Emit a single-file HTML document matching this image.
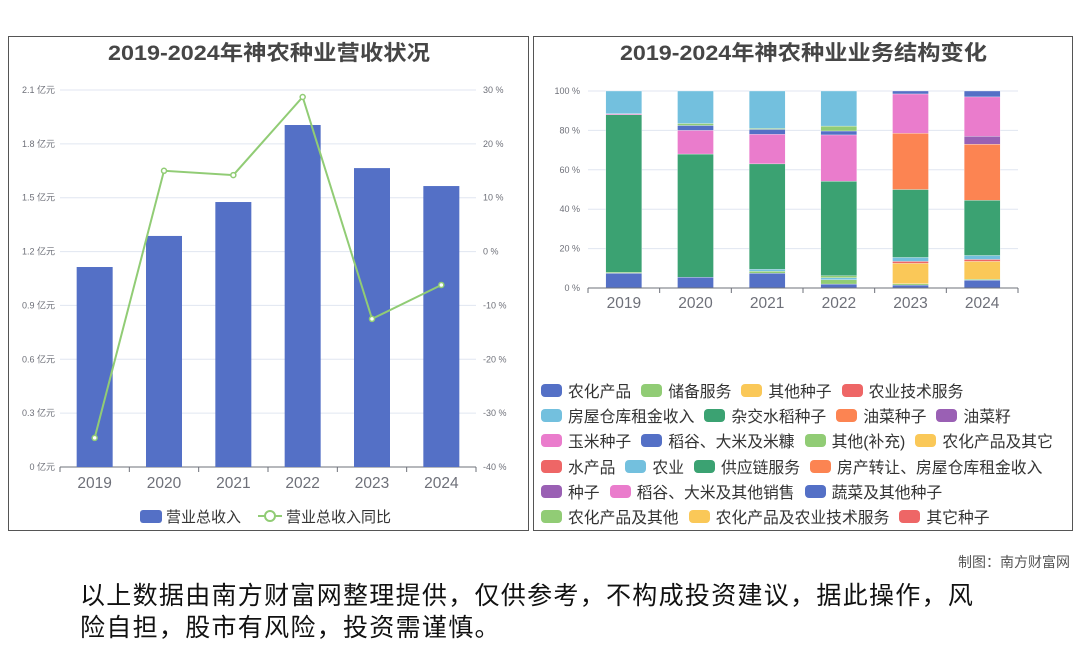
<!DOCTYPE html>
<html><head><meta charset="utf-8"><style>
body{margin:0;width:1080px;height:646px;background:#fff;position:relative;overflow:hidden;font-family:"Liberation Sans","Noto Sans CJK SC",sans-serif}
.panel{position:absolute;border:1px solid #555;box-sizing:border-box}
svg text{font-family:"Liberation Sans","Noto Sans CJK SC",sans-serif}
.leg{position:absolute;left:541px;top:380px;width:530px;display:flex;flex-wrap:wrap;row-gap:4.8px;column-gap:10px;font-size:15.8px;color:#333}
.li{display:flex;align-items:center;height:20.5px;white-space:nowrap}
.li i{display:inline-block;width:21px;height:13px;border-radius:4px;margin-right:6px}
</style></head><body>
<div class="panel" style="left:8px;top:36px;width:521px;height:495px"></div>
<div class="panel" style="left:533px;top:36px;width:540px;height:495px"></div>
<svg id="c" width="1080" height="646" style="position:absolute;left:0;top:0">
<text x="108" y="60" textLength="322" lengthAdjust="spacingAndGlyphs" font-size="21" font-weight="bold" fill="#464646">2019-2024年神农种业营收状况</text>
<text x="620" y="60" textLength="367" lengthAdjust="spacingAndGlyphs" font-size="21" font-weight="bold" fill="#464646">2019-2024年神农种业业务结构变化</text>
<g id="L"></g><g id="R"></g>
<rect x="140" y="510" width="22" height="13" rx="3" fill="#5470c6"/>
<text x="166" y="522" font-size="15" fill="#333">营业总收入</text>
<line x1="258" y1="516" x2="282" y2="516" stroke="#91cc75" stroke-width="2"/>
<circle cx="270" cy="516" r="5" fill="#fff" stroke="#91cc75" stroke-width="2"/>
<text x="286" y="522" font-size="15" fill="#333">营业总收入同比</text>
</svg>
<div class="leg" id="leg"></div>
<div style="position:absolute;right:10px;top:552px;font-size:14px;color:#555">制图：南方财富网</div>
<div style="position:absolute;left:80px;top:580px;width:980px;font-size:25px;letter-spacing:1.3px;line-height:32px;color:#111;white-space:nowrap">以上数据由南方财富网整理提供，仅供参考，不构成投资建议，据此操作，风<br>险自担，股市有风险，投资需谨慎。</div>
<script>
const years=['2019','2020','2021','2022','2023','2024'];
const revenue=[1.114,1.287,1.476,1.905,1.665,1.565];
const growth=[-34.6,15.0,14.2,28.7,-12.5,-6.2];
const leftTicks=['0 亿元','0.3 亿元','0.6 亿元','0.9 亿元','1.2 亿元','1.5 亿元','1.8 亿元','2.1 亿元'];
const rightTicks=['-40 %','-30 %','-20 %','-10 %','0 %','10 %','20 %','30 %'];
const pctTicks=['0 %','20 %','40 %','60 %','80 %','100 %'];
const seriesNames=['农化产品','储备服务','农化产品及其它','水产品','农业','其他(补充)','供应链服务','房产转让、房屋仓库租金收入','种子','稻谷、大米及其他销售','蔬菜及其他种子','农化产品及其他','房屋仓库租金收入'];
const seriesColors=['#5470c6','#91cc75','#fac858','#ee6666','#73c0de','#91cc75','#3ba272','#fc8452','#9a60b4','#ea7ccc','#5470c6','#91cc75','#73c0de'];
const s0=[7.5,5.5,7.5,2,1.5,4];
const s1=[0.5,0,1,2.2,0.7,0.5];
const s2=[0,0,0,0,10.3,9];
const s3=[0,0,0,0,1,1];
const s4=[0,0,1,1,2,2];
const s5=[0,0,0,1,0,0];
const s6=[80,62.5,53.5,48,34.5,28];
const s7=[0,0,0,0,28.5,28.5];
const s8=[0,0,0,0,0,4];
const s9=[0.5,12,15,23.5,20,20];
const s10=[0,2.5,2.5,2,1.5,3];
const s11=[0,1,0.5,2.5,0,0];
const s12=[11.5,16.5,19,17.8,0,0];
const stackSeries=[s0,s1,s2,s3,s4,s5,s6,s7,s8,s9,s10,s11,s12];
const legendNames=['农化产品','储备服务','其他种子','农业技术服务','房屋仓库租金收入','杂交水稻种子','油菜种子','油菜籽','玉米种子','稻谷、大米及米糠','其他(补充)','农化产品及其它','水产品','农业','供应链服务','房产转让、房屋仓库租金收入','种子','稻谷、大米及其他销售','蔬菜及其他种子','农化产品及其他','农化产品及农业技术服务','其它种子'];
const palette=['#5470c6','#91cc75','#fac858','#ee6666','#73c0de','#3ba272','#fc8452','#9a60b4','#ea7ccc'];
const NS='http://www.w3.org/2000/svg';
function mk(p,t,a){const e=document.createElementNS(NS,t);for(const k in a)e.setAttribute(k,a[k]);p.appendChild(e);return e;}
const L=document.getElementById('L');
const lx0=60,lx1=476,ly0=467,ly1=90;
const bw=(lx1-lx0)/years.length;
const yL=v=>ly0-(v/2.1)*(ly0-ly1);
const yR=v=>ly0-((v+40)/70)*(ly0-ly1);
const xC=i=>lx0+bw*(i+0.5);
leftTicks.forEach((t,i)=>{const y=ly0-i*(ly0-ly1)/7;
 if(i>0){const g=mk(L,'line',{x1:lx0,x2:lx1,y1:y,y2:y,stroke:'#e0e6f1'});}
 const a=mk(L,'text',{x:55,y:y+3,'text-anchor':'end','font-size':9,fill:'#6e7079'});a.textContent=t;
 
 const b=mk(L,'text',{x:483,y:y+3,'font-size':9,fill:'#6e7079'});b.textContent=rightTicks[i];
 });
mk(L,'line',{x1:lx0,x2:lx1,y1:ly0,y2:ly0,stroke:'#6e7079'});
years.forEach((yr,i)=>{
 mk(L,'line',{x1:lx0+bw*i,x2:lx0+bw*i,y1:ly0,y2:ly0+5,stroke:'#6e7079'});
 const r=mk(L,'rect',{x:xC(i)-18,y:yL(revenue[i]),width:36,height:ly0-yL(revenue[i]),fill:'#5470c6'});
 
 const t=mk(L,'text',{x:xC(i),y:488,'text-anchor':'middle','font-size':15.5,fill:'#6e7079'});t.textContent=yr;
 });
mk(L,'line',{x1:lx1,x2:lx1,y1:ly0,y2:ly0+5,stroke:'#6e7079'});
const pl=mk(L,'polyline',{points:growth.map((g,i)=>xC(i)+','+yR(g)).join(' '),fill:'none',stroke:'#91cc75','stroke-width':2});

growth.forEach((g,i)=>{const c=mk(L,'circle',{cx:xC(i),cy:yR(g),r:2.5,fill:'#fff',stroke:'#91cc75','stroke-width':1.5});
 });
const R=document.getElementById('R');
const rx0=588,rx1=1018,ry0=288,ry1=91;
const rbw=(rx1-rx0)/years.length;
const yP=v=>ry0-(v/100)*(ry0-ry1);
pctTicks.forEach((t,i)=>{const y=ry0-i*(ry0-ry1)/5;
 if(i>0){const g=mk(R,'line',{x1:rx0,x2:rx1,y1:y,y2:y,stroke:'#e0e6f1'});}
 const a=mk(R,'text',{x:580,y:y+3,'text-anchor':'end','font-size':9,fill:'#6e7079'});a.textContent=t;
 });
years.forEach((yr,i)=>{let acc=0;const cx=rx0+rbw*(i+0.5);
 stackSeries.forEach((s,k)=>{const v=s[i];if(v>0){
  const r=mk(R,'rect',{x:cx-18,y:yP(acc+v),width:36,height:yP(acc)-yP(acc+v),fill:seriesColors[k],stroke:'#fff','stroke-width':0.3});
  }
  acc+=v;});
 mk(R,'line',{x1:rx0+rbw*i,x2:rx0+rbw*i,y1:ry0,y2:ry0+5,stroke:'#6e7079'});
 const t=mk(R,'text',{x:cx,y:308,'text-anchor':'middle','font-size':15.5,fill:'#6e7079'});t.textContent=yr;
 });
mk(R,'line',{x1:rx0,x2:rx1,y1:ry0,y2:ry0,stroke:'#6e7079'});
mk(R,'line',{x1:rx1,x2:rx1,y1:ry0,y2:ry0+5,stroke:'#6e7079'});
const leg=document.getElementById('leg');
legendNames.forEach((n,i)=>{const d=document.createElement('div');d.className='li';
 
 
 d.innerHTML='<i style="background:'+palette[i%9]+'"></i>'+n;leg.appendChild(d);});
</script>
</body></html>
